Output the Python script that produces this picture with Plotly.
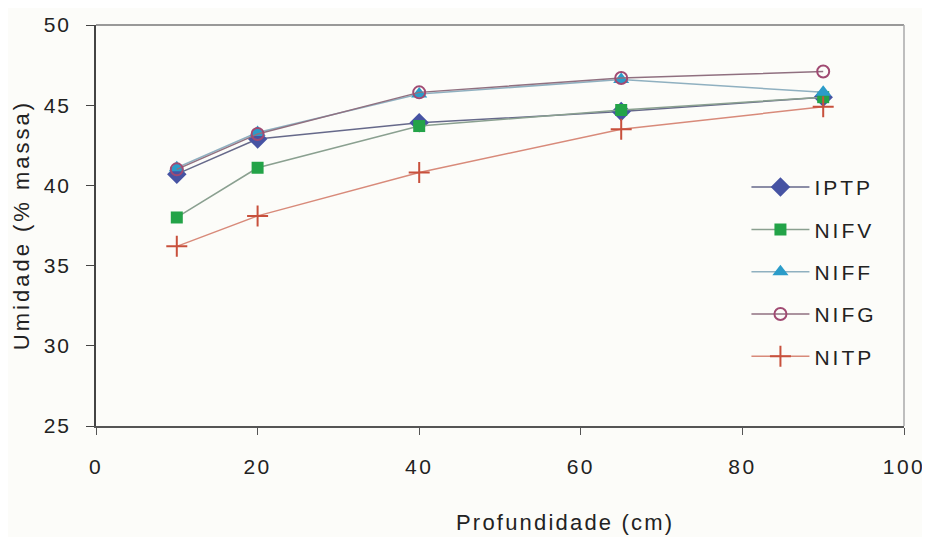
import plotly.graph_objects as go

depth = [10, 20, 40, 65, 90]
iptp = [40.7, 42.9, 43.9, 44.6, 45.5]
nifv = [38.0, 41.1, 43.7, 44.7, 45.5]
niff = [41.1, 43.3, 45.7, 46.6, 45.8]
nifg = [41.0, 43.2, 45.8, 46.7, 47.1]
nitp = [36.2, 38.1, 40.8, 43.5, 44.9]

x_ticks = [0, 20, 40, 60, 80, 100]
x_tick_labels = ["0", "20", "40", "60", "80", "100"]
y_ticks = [25, 30, 35, 40, 45, 50]
y_tick_labels = ["25", "30", "35", "40", "45", "50"]

x_title = "Profundidade (cm)"
y_title = "Umidade (% massa)"

FONT = "Liberation Sans, Arial, sans-serif"


def wide(text, px):
    return f'<span style="letter-spacing:{px}px">{text}</span>'


series = [
    ("IPTP", iptp, dict(symbol="diamond", size=15, color="#4653a3", line=dict(width=0)), "#66698a"),
    ("NIFV", nifv, dict(symbol="square", size=12, color="#23a348", line=dict(width=0)), "#8aa090"),
    ("NIFF", niff, dict(symbol="triangle-up", size=14, color="#2b9cc9", line=dict(width=0)), "#8fb0c0"),
    ("NIFG", nifg, dict(symbol="circle-open", size=12, color="#a04a72", line=dict(width=2, color="#a04a72")), "#907080"),
    ("NITP", nitp, dict(symbol="cross-thin-open", size=15, color="#c8503c", line=dict(width=2, color="#c8503c")), "#d88a7a"),
]

fig = go.Figure()
for name, vals, mk, lc in series:
    fig.add_trace(go.Scatter(
        x=depth, y=vals, name=wide(name, 3), mode="lines+markers",
        line=dict(color=lc, width=1.5), marker=mk,
        legendgroup=name,
    ))

fig.update_layout(
    width=922, height=529,
    margin=dict(l=88, r=26, t=17, b=111),
    paper_bgcolor="#fcfcf9", plot_bgcolor="#fcfcf9",
    font=dict(family=FONT, size=21, color="#222222"),
    showlegend=True,
    legend=dict(x=0.805, y=0.646, xanchor="left", yanchor="top",
                bgcolor="rgba(0,0,0,0)", font=dict(size=21, family=FONT, color="#222222"),
                tracegroupgap=12, itemwidth=58),
    xaxis=dict(range=[0, 100], tickvals=x_ticks,
               ticktext=[wide(t, 2.5) for t in x_tick_labels],
               showgrid=False, zeroline=False, automargin=False,
               showline=True, linecolor="#555555", linewidth=1.5,
               ticks="outside", ticklen=7, tickcolor="#555555",
               ticklabelstandoff=14, tickfont=dict(size=21)),
    yaxis=dict(range=[25, 50], tickvals=y_ticks,
               ticktext=[wide(t, 2) for t in y_tick_labels],
               showgrid=False, zeroline=False, automargin=False,
               showline=True, linecolor="#444444", linewidth=1.5,
               ticks="outside", ticklen=8, tickcolor="#444444",
               ticklabelstandoff=11, tickfont=dict(size=21)),
    shapes=[
        dict(type="line", xref="paper", yref="paper", x0=0, x1=1, y0=1, y1=1,
             line=dict(color="#999999", width=2)),
        dict(type="line", xref="paper", yref="paper", x0=1, x1=1, y0=0, y1=1,
             line=dict(color="#aaaaaa", width=1.5)),
    ],
    annotations=[
        dict(text=wide(x_title, 2.2), xref="paper", yref="paper", x=0.58, y=-0.24,
             xanchor="center", yanchor="middle", showarrow=False, font=dict(size=22)),
        dict(text=wide(y_title, 3), xref="paper", yref="paper", x=-0.092, y=0.5,
             xanchor="center", yanchor="middle", textangle=-90, showarrow=False,
             font=dict(size=22)),
    ],
)

fig.write_html("out.html")
